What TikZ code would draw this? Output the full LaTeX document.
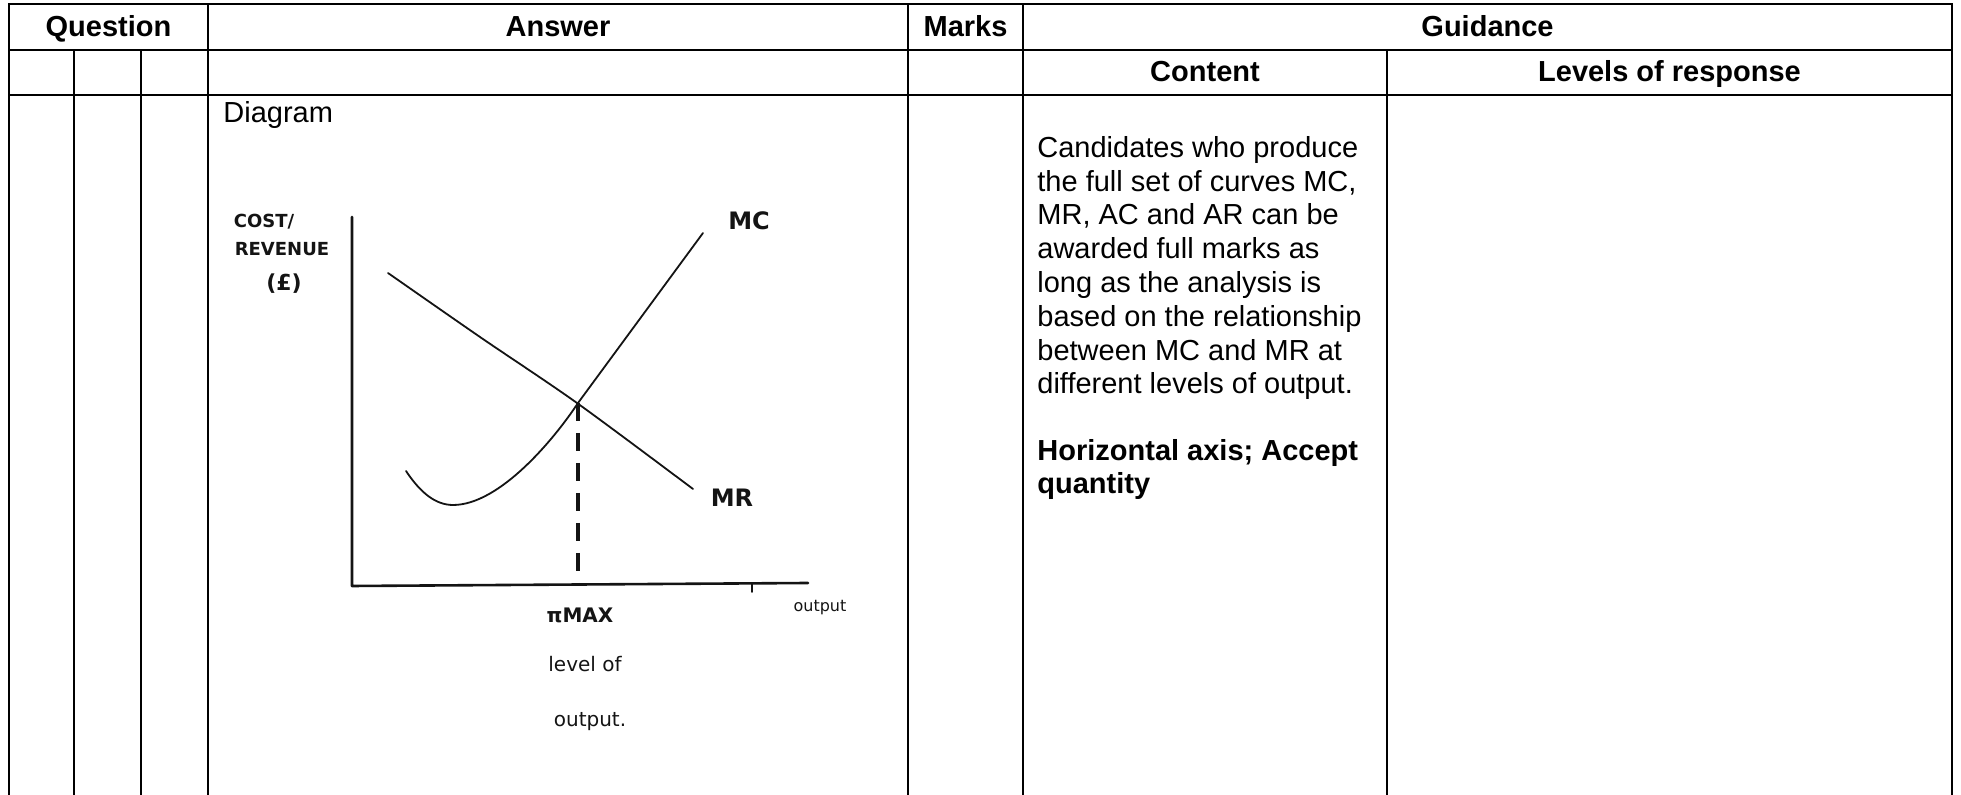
\documentclass[tikz,border=0pt]{standalone}
\usepackage{fontspec}
\setmainfont{Liberation Sans}
\newfontfamily\handfont{DejaVu Sans}

\definecolor{inkBlack}{HTML}{141414}

\begin{document}
\begin{tikzpicture}[x=0.5pt, y=-0.5pt,
    rule/.style={line width=1.1pt, line cap=rect},
    hdr/.style={font=\bfseries\fontsize{14.5}{16.9}\selectfont, anchor=base, inner sep=0pt},
    body/.style={font=\fontsize{14.5}{16.9}\selectfont, anchor=base west, align=left, inner sep=0pt},
    hand/.style={font=\handfont\bfseries\fontsize{9}{10}\selectfont, text=inkBlack, inner sep=0pt},
    pen/.style={inkBlack, line width=0.9pt, line cap=round, line join=round}]
    \useasboundingbox (0,0) rectangle (1961,795);

    % table rules
    \draw[rule] (9,4) -- (1952,4);
    \draw[rule] (9,50) -- (1952,50);
    \draw[rule] (9,95) -- (1952,95);
    \foreach \x in {9, 208, 908, 1023, 1952}
        \draw[rule] (\x,4) -- (\x,800);
    \foreach \x in {74, 141, 1387}
        \draw[rule] (\x,50) -- (\x,800);

    % headings
    \node[hdr] (qhead) at (108.5,37) {Question};
    \node[hdr] (ahead) at (558,37) {Answer};
    \node[hdr] (mhead) at (965.5,37) {Marks};
    \node[hdr] (ghead) at (1487.5,37) {Guidance};
    \node[hdr] (chead) at (1205,82) {Content};
    \node[hdr] (lhead) at (1669.5,82) {Levels of response};

    % answer cell
    \node[body] (diag) at (223,123) {Diagram};

    % content cell (base = last line)
    \node[body] (content) at (1037,394) {Candidates who produce\\
        the full set of curves MC,\\
        MR, AC and AR can be\\
        awarded full marks as\\
        long as the analysis is\\
        based on the relationship\\
        between MC and MR at\\
        different levels of output.};
    \node[body, font=\bfseries\fontsize{14.5}{16.9}\selectfont] (accept) at (1037,494)
        {Horizontal axis; Accept\\quantity};

    % sketch: axes
    \draw[pen, line width=1.3pt] (352,217) -- (352,586) -- (808,583);
    \draw[pen] (752,583) -- (752,592);

    % sketch: curves
    \draw[pen] plot[smooth] coordinates {(388,273) (480,337) (577,403) (693,489)};
    \draw[pen] (406,471) .. controls (420,492) and (435,505) .. (453,505)
        .. controls (500,505) and (555,438) .. (578,403) -- (703,233);
    \coordinate (peak) at (578,403);
    \coordinate (foot) at (578,585);
    \draw[pen, line width=1.7pt, line cap=butt, dash pattern=on 9pt off 6pt] (peak) -- (foot);

    % sketch: hand lettering
    \node[hand] (costlbl) at (264,222) {COST/};
    \node[hand] (revlbl) at (282,249) {REVENUE};
    \node[hand, font=\handfont\bfseries\fontsize{11}{12}\selectfont] (poundlbl) at (284,284) {(£)};
    \node[hand, font=\handfont\bfseries\fontsize{12}{13}\selectfont] (mclbl) at (749,221) {MC};
    \node[hand, font=\handfont\bfseries\fontsize{12}{13}\selectfont] (mrlbl) at (732,498) {MR};
    \node[hand, font=\handfont\bfseries\fontsize{10}{11}\selectfont] (pilbl) at (580,615) {πMAX};
    \node[hand, font=\handfont\fontsize{10}{11}\selectfont] (levellbl) at (585,664) {level of};
    \node[hand, font=\handfont\fontsize{10}{11}\selectfont] (outlbl) at (590,722) {output.};
    \node[hand, font=\handfont\fontsize{8}{9}\selectfont] (xlbl) at (820,608) {output};
\end{tikzpicture}
\end{document}
